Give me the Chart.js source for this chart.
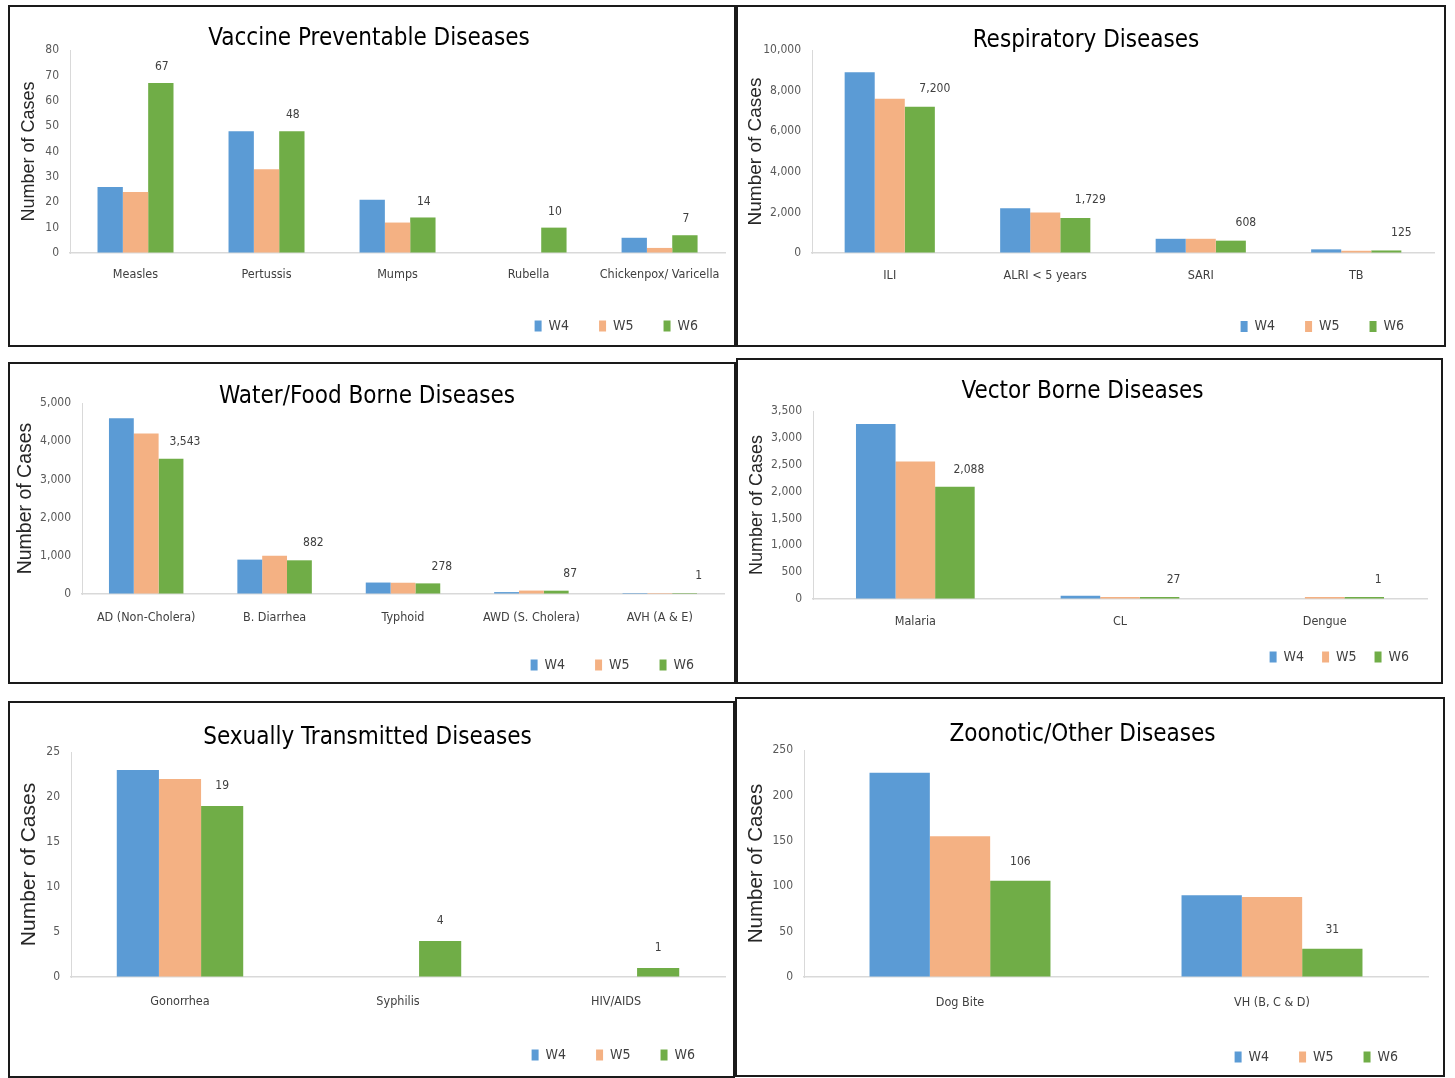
<!DOCTYPE html>
<html>
<head>
<meta charset="utf-8">
<title>Weekly disease cases W4-W6</title>
<script src="https://cdn.jsdelivr.net/npm/chart.js@4.4.1/dist/chart.umd.min.js"></script>
<style>
  body { margin: 0; background: #fff; width: 1455px; height: 1078px; position: relative; overflow: hidden; }
  .panel { position: absolute; box-sizing: border-box; border: 2px solid #1a1a1a; background: #fff; }
  .panel canvas { display: block; }
</style>
</head>
<body>

<div class="panel" style="left:8px;top:5px;width:728px;height:342px"><canvas id="vpd" width="724" height="338"></canvas></div>
<div class="panel" style="left:736px;top:5px;width:710px;height:342px"><canvas id="resp" width="706" height="338"></canvas></div>
<div class="panel" style="left:8px;top:362px;width:728px;height:322px"><canvas id="water" width="724" height="318"></canvas></div>
<div class="panel" style="left:736px;top:358px;width:707px;height:326px"><canvas id="vector" width="703" height="322"></canvas></div>
<div class="panel" style="left:8px;top:701px;width:727px;height:377px"><canvas id="std" width="723" height="373"></canvas></div>
<div class="panel" style="left:735px;top:697px;width:710px;height:380px"><canvas id="zoo" width="706" height="376"></canvas></div>

<script>
'use strict';

// ---- data ----
const weeks = ['W4', 'W5', 'W6'];

const vpdCats = ['Measles', 'Pertussis', 'Mumps', 'Rubella', 'Chickenpox/ Varicella'];
const vpdW4 = [26, 48, 21, null, 6];
const vpdW5 = [24, 33, 12, null, 2];
const vpdW6 = [67, 48, 14, 10, 7];
const vpdTicks = [0, 80, 10]; // min, max, step

const respCats = ['ILI', 'ALRI < 5 years', 'SARI', 'TB'];
const respW4 = [8900, 2200, 700, 180];
const respW5 = [7600, 2000, 700, 110];
const respW6 = [7200, 1729, 608, 125];
const respTicks = [0, 10000, 2000];

const waterCats = ['AD (Non-Cholera)', 'B. Diarrhea', 'Typhoid', 'AWD (S. Cholera)', 'AVH (A & E)'];
const waterW4 = [4600, 900, 300, 50, 3];
const waterW5 = [4200, 1000, 295, 90, 2];
const waterW6 = [3543, 882, 278, 87, 1];
const waterTicks = [0, 5000, 1000];

const vectorCats = ['Malaria', 'CL', 'Dengue'];
const vectorW4 = [3260, 60, null];
const vectorW5 = [2560, 35, 2];
const vectorW6 = [2088, 27, 1];
const vectorTicks = [0, 3500, 500];

const stdCats = ['Gonorrhea', 'Syphilis', 'HIV/AIDS'];
const stdW4 = [23, null, null];
const stdW5 = [22, null, null];
const stdW6 = [19, 4, 1];
const stdTicks = [0, 25, 5];

const zooCats = ['Dog Bite', 'VH (B, C & D)'];
const zooW4 = [225, 90];
const zooW5 = [155, 88];
const zooW6 = [106, 31];
const zooTicks = [0, 250, 50];

// ---- styling ----
const NARROW = "'Liberation Sans Narrow', 'DejaVu Sans Condensed', sans-serif";
const ARIAL = "'Liberation Sans', Arial, sans-serif";
const COLORS = ['#5B9BD5', '#F4B183', '#70AD47'];
const AXIS_LINE = '#d9d9d9';

Chart.defaults.font.family = NARROW;
Chart.defaults.animation = false;

// numbers over the W6 bars
const valueLabels = {
  id: 'valueLabels',
  afterDatasetsDraw(chart, args, opts) {
    const ctx = chart.ctx;
    const meta = chart.getDatasetMeta(2);
    const vals = chart.data.datasets[2].data;
    ctx.save();
    ctx.font = '12px ' + NARROW;
    ctx.fillStyle = '#404040';
    ctx.textAlign = 'center';
    ctx.textBaseline = 'middle';
    meta.data.forEach((bar, i) => {
      if (vals[i] == null) return;
      ctx.fillText(vals[i].toLocaleString('en-US'), bar.x + opts.dx, bar.y - opts.dy);
    });
    ctx.restore();
  }
};

function makeChart(id, title, cats, series, ticks, lay) {
  return new Chart(document.getElementById(id), {
    type: 'bar',
    plugins: [valueLabels],
    data: {
      labels: cats,
      datasets: series.map((d, i) => ({
        label: weeks[i],
        data: d,
        backgroundColor: COLORS[i],
        borderWidth: 0,
        minBarLength: lay.minBar || 0,
        barPercentage: 1,
        categoryPercentage: 0.58
      }))
    },
    options: {
      responsive: false,
      layout: { padding: { left: 0, top: 0, right: lay.padR, bottom: lay.padB } },
      plugins: {
        tooltip: { enabled: false },
        title: {
          display: true,
          text: title,
          color: '#000',
          font: { family: NARROW, size: 24, weight: 'normal', lineHeight: 1 },
          padding: { top: lay.tTop, bottom: lay.tBot }
        },
        legend: {
          position: 'bottom',
          align: 'end',
          labels: {
            boxWidth: 7,
            boxHeight: 11,
            padding: lay.legPad || 30,
            color: '#404040',
            font: { family: NARROW, size: 14 }
          }
        },
        valueLabels: { dx: lay.dx, dy: lay.dy }
      },
      scales: {
        x: {
          grid: { display: true, drawOnChartArea: false, drawTicks: false },
          border: { display: true, color: AXIS_LINE, width: 1.5 },
          ticks: { color: '#404040', padding: lay.xPad, font: { size: 12.5 }, maxRotation: 0, autoSkip: false },
          afterFit: s => { s.height = lay.xH; }
        },
        y: {
          min: ticks[0],
          max: ticks[1],
          grid: { display: true, drawOnChartArea: false, drawTicks: false },
          border: { display: true, color: AXIS_LINE, width: 1 },
          ticks: {
            stepSize: ticks[2],
            color: '#595959',
            padding: 11,
            font: { size: 12 },
            callback: v => v.toLocaleString('en-US')
          },
          title: {
            display: true,
            text: 'Number of Cases',
            color: '#262626',
            font: { family: ARIAL, size: lay.ytSize, lineHeight: 1 },
            padding: { top: lay.ytPad, bottom: 0 }
          },
          afterFit: s => { s.width = lay.yW; }
        }
      }
    }
  });
}

makeChart('vpd', 'Vaccine Preventable Diseases', vpdCats, [vpdW4, vpdW5, vpdW6], vpdTicks,
  { padR: 6, padB: 2, tTop: 20, tBot: -1, xH: 36, xPad: 14, yW: 60, ytPad: 10, ytSize: 18, dx: 1, dy: 16 });

makeChart('resp', 'Respiratory Diseases', respCats, [respW4, respW5, respW6], respTicks,
  { padR: 10, padB: 1.5, tTop: 22, tBot: -3, xH: 36.5, xPad: 15, yW: 74, ytPad: 8, ytSize: 19, dx: 15, dy: 18 });

makeChart('water', 'Water/Food Borne Diseases', waterCats, [waterW4, waterW5, waterW6], waterTicks,
  { padR: 10, padB: 0, tTop: 21, tBot: -6, xH: 34, xPad: 16, yW: 72, ytPad: 6, ytSize: 19.5, dx: 14, dy: 17, minBar: 1 });

makeChart('vector', 'Vector Borne Diseases', vectorCats, [vectorW4, vectorW5, vectorW6], vectorTicks,
  { padR: 14, padB: 8, tTop: 19.5, tBot: 7.5, xH: 33, xPad: 15, yW: 75, ytPad: 10, ytSize: 18, dx: 14, dy: 17, minBar: 2, legPad: 18 });

makeChart('std', 'Sexually Transmitted Diseases', stdCats, [stdW4, stdW5, stdW6], stdTicks,
  { padR: 8, padB: 4, tTop: 23, tBot: 2, xH: 41, xPad: 17, yW: 61, ytPad: 9, ytSize: 21, dx: 0, dy: 20 });

makeChart('zoo', 'Zoonotic/Other Diseases', zooCats, [zooW4, zooW5, zooW6], zooTicks,
  { padR: 15, padB: 1, tTop: 24, tBot: 3, xH: 43, xPad: 18, yW: 67, ytPad: 9, ytSize: 20.5, dx: 0, dy: 19 });
</script>
</body>
</html>
